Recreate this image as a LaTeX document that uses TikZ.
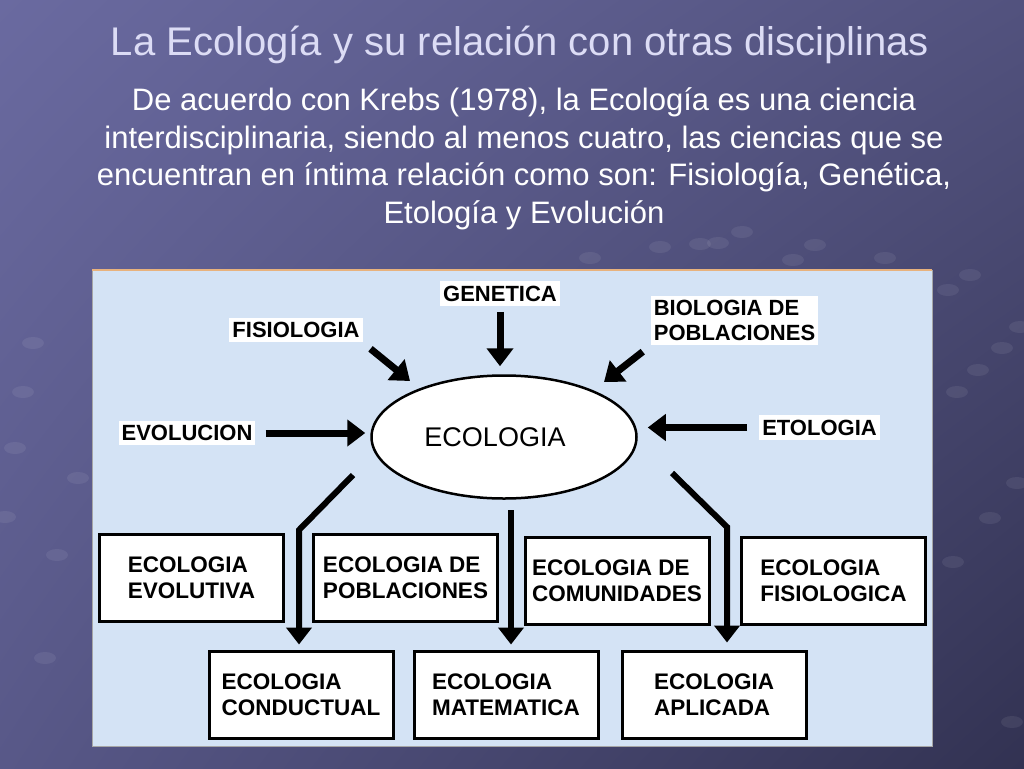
\documentclass[tikz,border=0pt]{standalone}
\usepackage{fontspec}
\setmainfont{Liberation Sans}
\usetikzlibrary{arrows.meta,shapes.geometric,shadings}
\definecolor{fondoUL}{RGB}{106,106,160}
\definecolor{fondoUR}{RGB}{82,82,126}
\definecolor{fondoLL}{RGB}{88,88,136}
\definecolor{fondoLR}{RGB}{50,50,82}
\definecolor{panel}{RGB}{212,227,245}
\definecolor{titulo}{RGB}{220,220,245}
\tikzset{etiqueta/.style={fill=white,inner xsep=3pt,inner ysep=4.5pt,
                          align=left,font=\fontsize{22}{25}\selectfont\bfseries}}
\tikzset{rama/.style={draw,line width=3pt,fill=white,minimum width=184pt,
                      minimum height=87pt,align=left,
                      font=\fontsize{22.5}{26}\selectfont\bfseries}}
\tikzset{flecha/.style={line width=7pt,-{Triangle[width=26pt,length=18pt]}}}
\tikzset{bajada/.style={line width=6pt,-{Triangle[width=25pt,length=17pt]}}}
\begin{document}
\begin{tikzpicture}[x=1pt,y=-1pt]
    % Background of the slide
    \useasboundingbox (0,0) rectangle (1024,768);
    \shade[upper left=fondoUL,upper right=fondoUR,lower left=fondoLL,
           lower right=fondoLR] (0,0) rectangle (1024,768);
    % Faint dots
    \foreach \x/\y in {33/343,23/392,15/448,78/478,5/517,57/555,45/658,
                       590/258,660/247,700/244,742/232,718/243,815/245,
                       793/260,885/258,970/275,948/290,1020/327,1002/348,
                       978/370,957/392,1017/483,990/518,953/562,1012/722}{%
          \fill[white,opacity=0.07] (\x,\y) ellipse (11pt and 6pt);
        }
    % Title and text
    \node[text=titulo,font=\fontsize{40}{44}\selectfont] (titulo) at (520,45)
         {La Ecología y su relación con otras disciplinas};
    \node[text=white,align=center,font=\fontsize{31}{37.5}\selectfont]
         (texto) at (524,159)
         {De acuerdo con Krebs (1978), la Ecología es una ciencia\\
          interdisciplinaria, siendo al menos cuatro, las ciencias que se\\
          encuentran en íntima relación como son: Fisiología, Genética,\\
          Etología y Evolución};
    % Light blue panel
    \fill[panel,draw=gray!70,line width=1pt] (92,270) rectangle (932,746);
    \draw[brown!60!orange!60,line width=1.5pt] (92,270) -- (932,270);
    % Central ellipse
    \node[ellipse,draw,line width=2.5pt,fill=white,minimum width=265pt,
          minimum height=123pt,font=\fontsize{27}{30}\selectfont]
         (eco) at (504,437) {ECOLOGIA\hspace*{18pt}};
    % Related sciences
    \node[etiqueta] (gen) at (500,293.5) {GENETICA};
    \node[etiqueta] (fis) at (296,330) {FISIOLOGIA};
    \node[etiqueta] (bio) at (734.5,320.5) {BIOLOGIA DE\\POBLACIONES};
    \node[etiqueta] (evo) at (187,433) {EVOLUCION};
    \node[etiqueta] (eto) at (819.5,427.5) {ETOLOGIA};
    \coordinate (fisfin) at (410,381);
    \coordinate (biofin) at (604,382);
    % Arrows into the ellipse
    \draw[flecha,shorten <=6pt,shorten >=8pt] (gen.south) -- (gen.south |- eco.north);
    \draw[flecha,shorten <=10pt] (fis.south east) -- (fisfin);
    \draw[flecha,shorten <=10pt] (bio.south west) -- (biofin);
    \draw[flecha,shorten <=10pt,shorten >=5pt] (evo.east) -- (evo.east -| eco.west);
    \draw[flecha,shorten <=12pt,shorten >=10pt] (eto.west) -- (eto.west -| eco.east);
    % Branches of ecology
    \node[rama] (evolutiva) at (191.5,578) {ECOLOGIA\\EVOLUTIVA};
    \node[rama] (poblaciones) at (405.5,578) {ECOLOGIA DE\\POBLACIONES};
    \node[rama] (comunidades) at (617,580.5) {ECOLOGIA DE\\COMUNIDADES};
    \node[rama] (fisiologica) at (833.5,580.5) {ECOLOGIA\\FISIOLOGICA};
    \node[rama] (conductual) at (301,694.5) {ECOLOGIA\\CONDUCTUAL};
    \node[rama] (matematica) at (506,694.5) {ECOLOGIA\\MATEMATICA};
    \node[rama] (aplicada) at (714,694.5) {ECOLOGIA\\APLICADA};
    % Arrows out of the ellipse
    \coordinate (izqini) at (353,475);
    \coordinate (izqcodo) at (299,530);
    \coordinate (cenini) at (511,510);
    \coordinate (derini) at (672,473);
    \coordinate (dercodo) at (727,527);
    \draw[bajada] (izqini) -- (izqcodo) -- ([yshift=5pt]izqcodo |- conductual.north);
    \draw[bajada] (cenini) -- ([yshift=5pt]cenini |- matematica.north);
    \draw[bajada] (derini) -- (dercodo) -- ([yshift=7pt]dercodo |- aplicada.north);
\end{tikzpicture}
\end{document}
